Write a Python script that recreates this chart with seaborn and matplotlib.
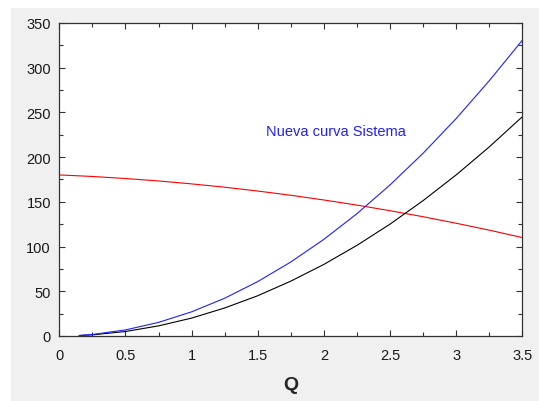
import matplotlib
matplotlib.use("Agg")
import matplotlib.pyplot as plt
from matplotlib.patches import Rectangle
from matplotlib.ticker import MultipleLocator
import seaborn as sns
import pandas as pd

# ---- data ----
q_system = [0.15, 0.25, 0.5, 0.75, 1.0, 1.25, 1.5, 1.75, 2.0, 2.25, 2.5, 2.75, 3.0, 3.25, 3.5]
h_old_system = [0.5, 1.3, 5, 11.3, 20, 31.3, 45, 61.3, 80, 101.3, 125, 151.3, 180, 211.3, 245]
h_new_system = [0.6, 1.7, 6.8, 15.2, 27, 42.2, 60.8, 82.7, 108, 136.7, 168.8, 204.2, 243, 285.2, 330.5]
q_pump = [0.0, 0.25, 0.5, 0.75, 1.0, 1.25, 1.5, 1.75, 2.0, 2.25, 2.5, 2.75, 3.0, 3.25, 3.5]
h_pump = [180, 178.3, 176, 173.3, 170, 166.3, 162, 157.3, 152, 146.3, 140, 133.3, 126, 118.3, 110]

x_ticks = [0, 0.5, 1, 1.5, 2, 2.5, 3, 3.5]
x_tick_labels = ["0", "0.5", "1", "1.5", "2", "2.5", "3", "3.5"]
y_ticks = [0, 50, 100, 150, 200, 250, 300, 350]
y_tick_labels = ["0", "50", "100", "150", "200", "250", "300", "350"]
annotation = "Nueva curva Sistema"
x_label = "Q"

sns.set_style("white")
plt.rcParams["font.family"] = ["Liberation Sans", "DejaVu Sans"]

fig = plt.figure(figsize=(5.39, 4.02), dpi=100)
fig.patch.set_facecolor("white")
fig.patches.append(Rectangle((11 / 539, 0), 1 - 11 / 539, (402 - 9) / 402,
                             transform=fig.transFigure, facecolor="#f0f0f0",
                             edgecolor="none", zorder=-10))
ax = fig.add_axes([0.110, 0.1617, 0.859, 0.779])
ax.set_facecolor("white")

df_old = pd.DataFrame({"Q": q_system, "H": h_old_system})
df_new = pd.DataFrame({"Q": q_system, "H": h_new_system})
df_pump = pd.DataFrame({"Q": q_pump, "H": h_pump})

sns.lineplot(data=df_pump, x="Q", y="H", ax=ax, color="#ff0000", linewidth=0.8)
sns.lineplot(data=df_old, x="Q", y="H", ax=ax, color="#000000", linewidth=0.8)
sns.lineplot(data=df_new, x="Q", y="H", ax=ax, color="#2020ff", linewidth=0.8)

ax.text(1.56, 229, annotation, color="#2020ff", fontsize=10.5, va="center", ha="left")

ax.set_xlim(0, 3.5)
ax.set_ylim(0, 350)
ax.set_xticks(x_ticks)
ax.set_xticklabels(x_tick_labels)
ax.set_yticks(y_ticks)
ax.set_yticklabels(y_tick_labels)
ax.xaxis.set_minor_locator(MultipleLocator(0.25))
ax.yaxis.set_minor_locator(MultipleLocator(25))
ax.tick_params(which="both", direction="in", top=True, right=True,
               bottom=True, left=True, colors="#333333", labelcolor="#1a1a1a",
               labelsize=10.5, width=0.8)
ax.tick_params(which="major", length=4)
ax.tick_params(which="minor", length=3)
ax.tick_params(axis="x", which="major", pad=9)
ax.tick_params(axis="y", which="major", pad=6)
for s in ax.spines.values():
    s.set_color("#333333")
    s.set_linewidth(0.9)

ax.set_ylabel("")
ax.set_xlabel(x_label, fontsize=14, fontweight="bold", labelpad=10)

fig.savefig("out.png", dpi=100, facecolor=fig.get_facecolor())
